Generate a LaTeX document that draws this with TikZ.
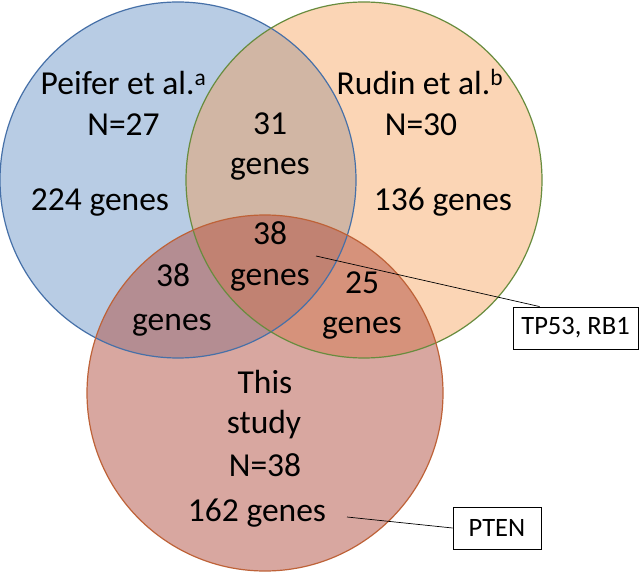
\documentclass[tikz,border=0pt]{standalone}
\usepackage{fontspec}
\setmainfont{Carlito}
\definecolor{bluefill}{RGB}{79,129,189}
\definecolor{orangefill}{RGB}{247,150,70}
\definecolor{redfill}{RGB}{178,80,66}
\definecolor{blueline}{RGB}{70,112,168}
\definecolor{greenline}{RGB}{104,140,62}
\definecolor{redline}{RGB}{190,98,56}
\begin{document}
\begin{tikzpicture}[x=1pt,y=-1pt,
  lbl/.style={anchor=base,inner sep=0pt,font=\fontsize{33.5}{40}\selectfont},
  tag/.style={draw=black,line width=0.9pt,fill=white,minimum width=125pt,minimum height=42pt,inner sep=0pt,font=\fontsize{26.5}{30}\selectfont},
  lead/.style={draw=black,line width=0.7pt},
  ring/.style={line width=1.2pt}]
\useasboundingbox (0,0) rectangle (640,572);
\fill[white] (0,0) rectangle (640,572);
% fills
\fill[bluefill,fill opacity=.4] (178,180) circle[radius=178pt];
\fill[orangefill,fill opacity=.4] (364,180) circle[radius=178pt];
\fill[redfill,fill opacity=.5] (265,393) circle[radius=178pt];
% outlines
\draw[ring,blueline] (178,180) circle[radius=178pt];
\draw[ring,greenline] (364,180) circle[radius=178pt];
\draw[ring,redline] (265,393) circle[radius=178pt];
% labels
\node[lbl] (peifer) at (123.5,95) {Peifer et al.\textsuperscript{a}};
\node[lbl] (n27) at (123.5,136) {N=27};
\node[lbl] (g224) at (100,211) {224 genes};
\node[lbl] (n31) at (270,135) {31};
\node[lbl] (g31) at (270,175) {genes};
\node[lbl] (rudin) at (420,95) {Rudin et al.\textsuperscript{b}};
\node[lbl] (n30) at (421,136) {N=30};
\node[lbl] (g136) at (443,211) {136 genes};
\node[lbl] (n38c) at (270,245) {38};
\node[lbl] (g38c) at (270,285) {genes};
\node[lbl] (n38l) at (173,287) {38};
\node[lbl] (g38l) at (172,330) {genes};
\node[lbl] (n25) at (362,293) {25};
\node[lbl] (g25) at (362,333) {genes};
\node[lbl] (this) at (265,393) {This};
\node[lbl] (study) at (264,433) {study};
\node[lbl] (n38) at (265,476) {N=38};
\node[lbl] (g162) at (257,521) {162 genes};
% callouts
\coordinate (p1) at (316,256);
\coordinate (p2) at (347,517);
\node[tag] (tp) at (575.5,328) {TP53, RB1};
\node[tag,minimum width=88pt] (pten) at (497,528) {PTEN};
\draw[lead] (p1) -- ([xshift=27pt]tp.north west);
\draw[lead] (p2) -- (pten.west);
\end{tikzpicture}
\end{document}
